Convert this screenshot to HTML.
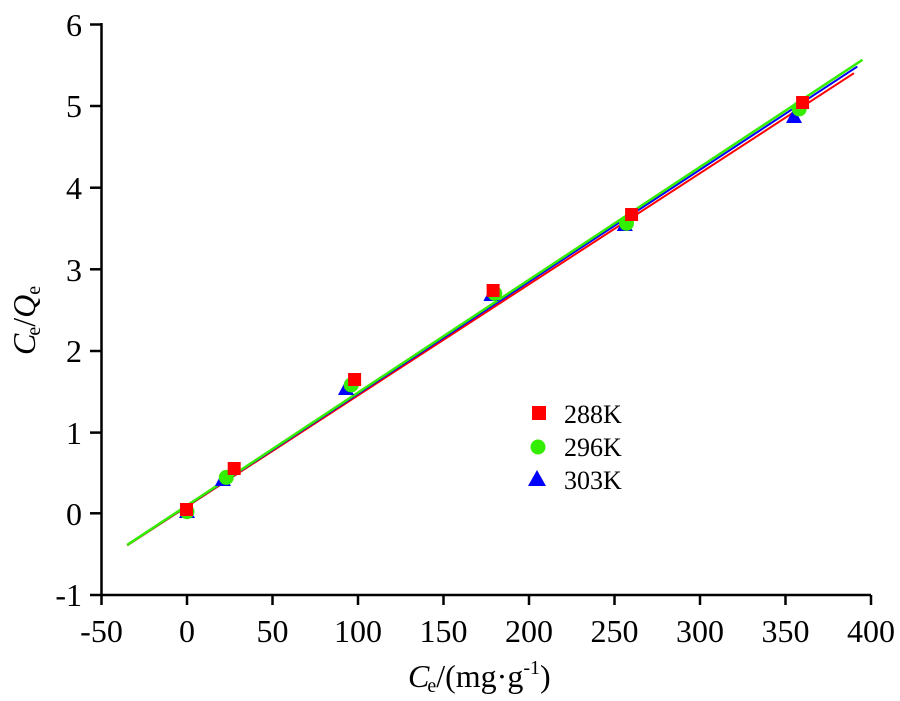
<!DOCTYPE html><html><head><style>body{margin:0;background:#fff}svg{display:block}text{font-family:"Liberation Serif",serif;fill:#000}</style></head><body>
<svg width="900" height="701" xmlns="http://www.w3.org/2000/svg">
<g stroke="#000" stroke-width="2.5" fill="none">
<line x1="101.5" y1="23" x2="101.5" y2="596"/>
<line x1="100" y1="595" x2="871" y2="595"/>
</g>
<g stroke="#000" stroke-width="2.5">
<line x1="101.5" y1="595" x2="101.5" y2="605"/><line x1="187" y1="595" x2="187" y2="605"/><line x1="272.5" y1="595" x2="272.5" y2="605"/><line x1="358" y1="595" x2="358" y2="605"/><line x1="443.5" y1="595" x2="443.5" y2="605"/><line x1="529" y1="595" x2="529" y2="605"/><line x1="614.5" y1="595" x2="614.5" y2="605"/><line x1="700" y1="595" x2="700" y2="605"/><line x1="785.5" y1="595" x2="785.5" y2="605"/><line x1="871" y1="595" x2="871" y2="605"/>
<line x1="90" y1="24.5" x2="101" y2="24.5"/><line x1="90" y1="106" x2="101" y2="106"/><line x1="90" y1="187.7" x2="101" y2="187.7"/><line x1="90" y1="269.3" x2="101" y2="269.3"/><line x1="90" y1="351" x2="101" y2="351"/><line x1="90" y1="432.6" x2="101" y2="432.6"/><line x1="90" y1="513.3" x2="101" y2="513.3"/><line x1="90" y1="595" x2="101" y2="595"/>
</g>
<g font-size="32" text-anchor="middle">
<text x="101.5" y="642">-50</text><text x="187" y="642">0</text><text x="272.5" y="642">50</text><text x="358" y="642">100</text><text x="443.5" y="642">150</text><text x="529" y="642">200</text><text x="614.5" y="642">250</text><text x="700" y="642">300</text><text x="785.5" y="642">350</text><text x="871" y="642">400</text>
</g>
<g font-size="32" text-anchor="end">
<text x="82" y="36">6</text><text x="82" y="117">5</text><text x="82" y="199">4</text><text x="82" y="281">3</text><text x="82" y="362">2</text><text x="82" y="444">1</text><text x="82" y="525">0</text><text x="82" y="606">-1</text>
</g>
<text x="408" y="687" font-size="32"><tspan font-style="italic">C</tspan><tspan font-size="20" dy="5" dx="-2">e</tspan><tspan dy="-5">/(mg·g</tspan><tspan font-size="20" dy="-13">-1</tspan><tspan dy="13">)</tspan></text>
<text transform="translate(35,355) rotate(-90)" font-size="32"><tspan font-style="italic">C</tspan><tspan font-size="20" dy="5" dx="-2">e</tspan><tspan dy="-5">/</tspan><tspan font-style="italic">Q</tspan><tspan font-size="20" dy="5">e</tspan></text>
<line x1="127.2" y1="545.4" x2="853.9" y2="73.2" stroke="#ff0000" stroke-width="2"/>
<line x1="127.2" y1="545.1" x2="857.3" y2="66.6" stroke="#0000ff" stroke-width="2"/>
<line x1="127.2" y1="544.9" x2="862.5" y2="59.8" stroke="#33ee00" stroke-width="2.5"/>
<g fill="#0000ff">
<polygon points="187,503 195,518 179,518"/><polygon points="222.9,471 230.9,486 214.9,486"/><polygon points="346,380 354,395 338,395"/><polygon points="491.4,286 499.4,301 483.4,301"/><polygon points="624.8,216 632.8,231 616.8,231"/><polygon points="794,108 802,123 786,123"/>
</g>
<g fill="#33ee00">
<circle cx="187" cy="511.7" r="7.5"/><circle cx="226.3" cy="477.4" r="7.5"/><circle cx="351.2" cy="385" r="7.5"/><circle cx="494.8" cy="293.5" r="7.5"/><circle cx="626.5" cy="223.3" r="7.5"/><circle cx="799.2" cy="108.9" r="7.5"/>
</g>
<g fill="#ff0000">
<rect x="180" y="503" width="13" height="13"/><rect x="227.7" y="462" width="13" height="13"/><rect x="348.1" y="373" width="13" height="13"/><rect x="486.6" y="284" width="13" height="13"/><rect x="625.1" y="208" width="13" height="13"/><rect x="796.1" y="96" width="13" height="13"/>
</g>
<rect x="532" y="406" width="14" height="14" fill="#ff0000"/>
<circle cx="538" cy="447" r="7.5" fill="#33ee00"/>
<polygon points="537,470 546,486 528,486" fill="#0000ff"/>
<g font-size="26"><text x="564" y="423">288K</text><text x="564" y="456">296K</text><text x="564" y="489">303K</text></g>
</svg></body></html>
